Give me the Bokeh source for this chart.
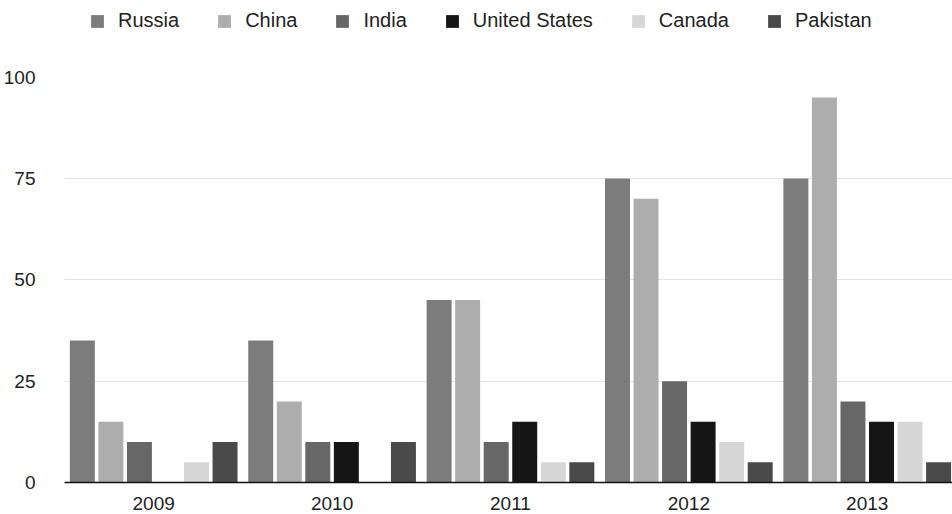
from bokeh.plotting import figure
from bokeh.models import ColumnDataSource, Range1d, FixedTicker, Legend, LegendItem
from bokeh.transform import dodge
from bokeh.embed import file_html
from bokeh.resources import INLINE

years = ["2009", "2010", "2011", "2012", "2013"]
countries = ["Russia", "China", "India", "United States", "Canada", "Pakistan"]
russia = [35, 35, 45, 75, 75]
china = [15, 20, 45, 70, 95]
india = [10, 10, 10, 25, 20]
united_states = [0, 10, 15, 15, 15]
canada = [5, 0, 5, 10, 15]
pakistan = [10, 10, 5, 5, 5]
y_ticks = [0, 25, 50, 75, 100]

series = [russia, china, india, united_states, canada, pakistan]
colors = ["#7c7c7c", "#adadad", "#676767", "#151515", "#d6d6d6", "#4a4a4a"]

idx = list(range(len(years)))
data = {"idx": idx}
keys = []
for i, s in enumerate(series):
    k = "s%d" % i
    keys.append(k)
    data[k] = s
source = ColumnDataSource(data)

p = figure(width=952, height=514, output_backend="svg", toolbar_location=None,
           x_range=Range1d(-0.5, 4.478), y_range=Range1d(0, 118.9),
           min_border_left=63, min_border_right=0, min_border_top=0, min_border_bottom=32)
p.outline_line_color = None
p.background_fill_color = "white"
p.border_fill_color = "white"

step = 0.16
renderers = []
for i, k in enumerate(keys):
    off = (i - 2.5) * step
    r = p.vbar(x=dodge("idx", off, range=p.x_range), top=k, width=0.14, bottom=0,
               source=source, fill_color=colors[i], line_color=None)
    renderers.append(r)

font = "Liberation Sans"
p.xaxis.ticker = FixedTicker(ticks=idx)
p.xaxis.major_label_overrides = {i: y for i, y in enumerate(years)}
p.xaxis.major_tick_line_color = None
p.xaxis.minor_tick_line_color = None
p.xaxis.axis_line_color = "#111111"
p.xaxis.axis_line_width = 1.5
p.xaxis.major_label_text_font = font
p.xaxis.major_label_text_font_size = "19px"
p.xaxis.major_label_text_color = "#222222"
p.xaxis.major_label_standoff = 8

p.yaxis.ticker = FixedTicker(ticks=y_ticks)
p.yaxis.major_tick_line_color = None
p.yaxis.minor_tick_line_color = None
p.yaxis.axis_line_color = None
p.yaxis.major_label_text_font = font
p.yaxis.major_label_text_font_size = "19px"
p.yaxis.major_label_text_color = "#222222"
p.yaxis.major_label_standoff = 23

p.xgrid.grid_line_color = None
p.ygrid.ticker = FixedTicker(ticks=[25, 50, 75])
p.ygrid.grid_line_color = "#e4e4e4"
p.ygrid.grid_line_width = 1

items = [LegendItem(label=c, renderers=[renderers[i]]) for i, c in enumerate(countries)]
legend = Legend(items=items, orientation="horizontal", location=(25, 450),
                glyph_width=16, glyph_height=16, label_standoff=13, spacing=37,
                padding=0, margin=0, border_line_color=None, background_fill_alpha=0,
                label_text_font=font, label_text_font_size="20px", label_text_color="#222222")
p.add_layout(legend)

open("out.html", "w").write(file_html(p, INLINE))
